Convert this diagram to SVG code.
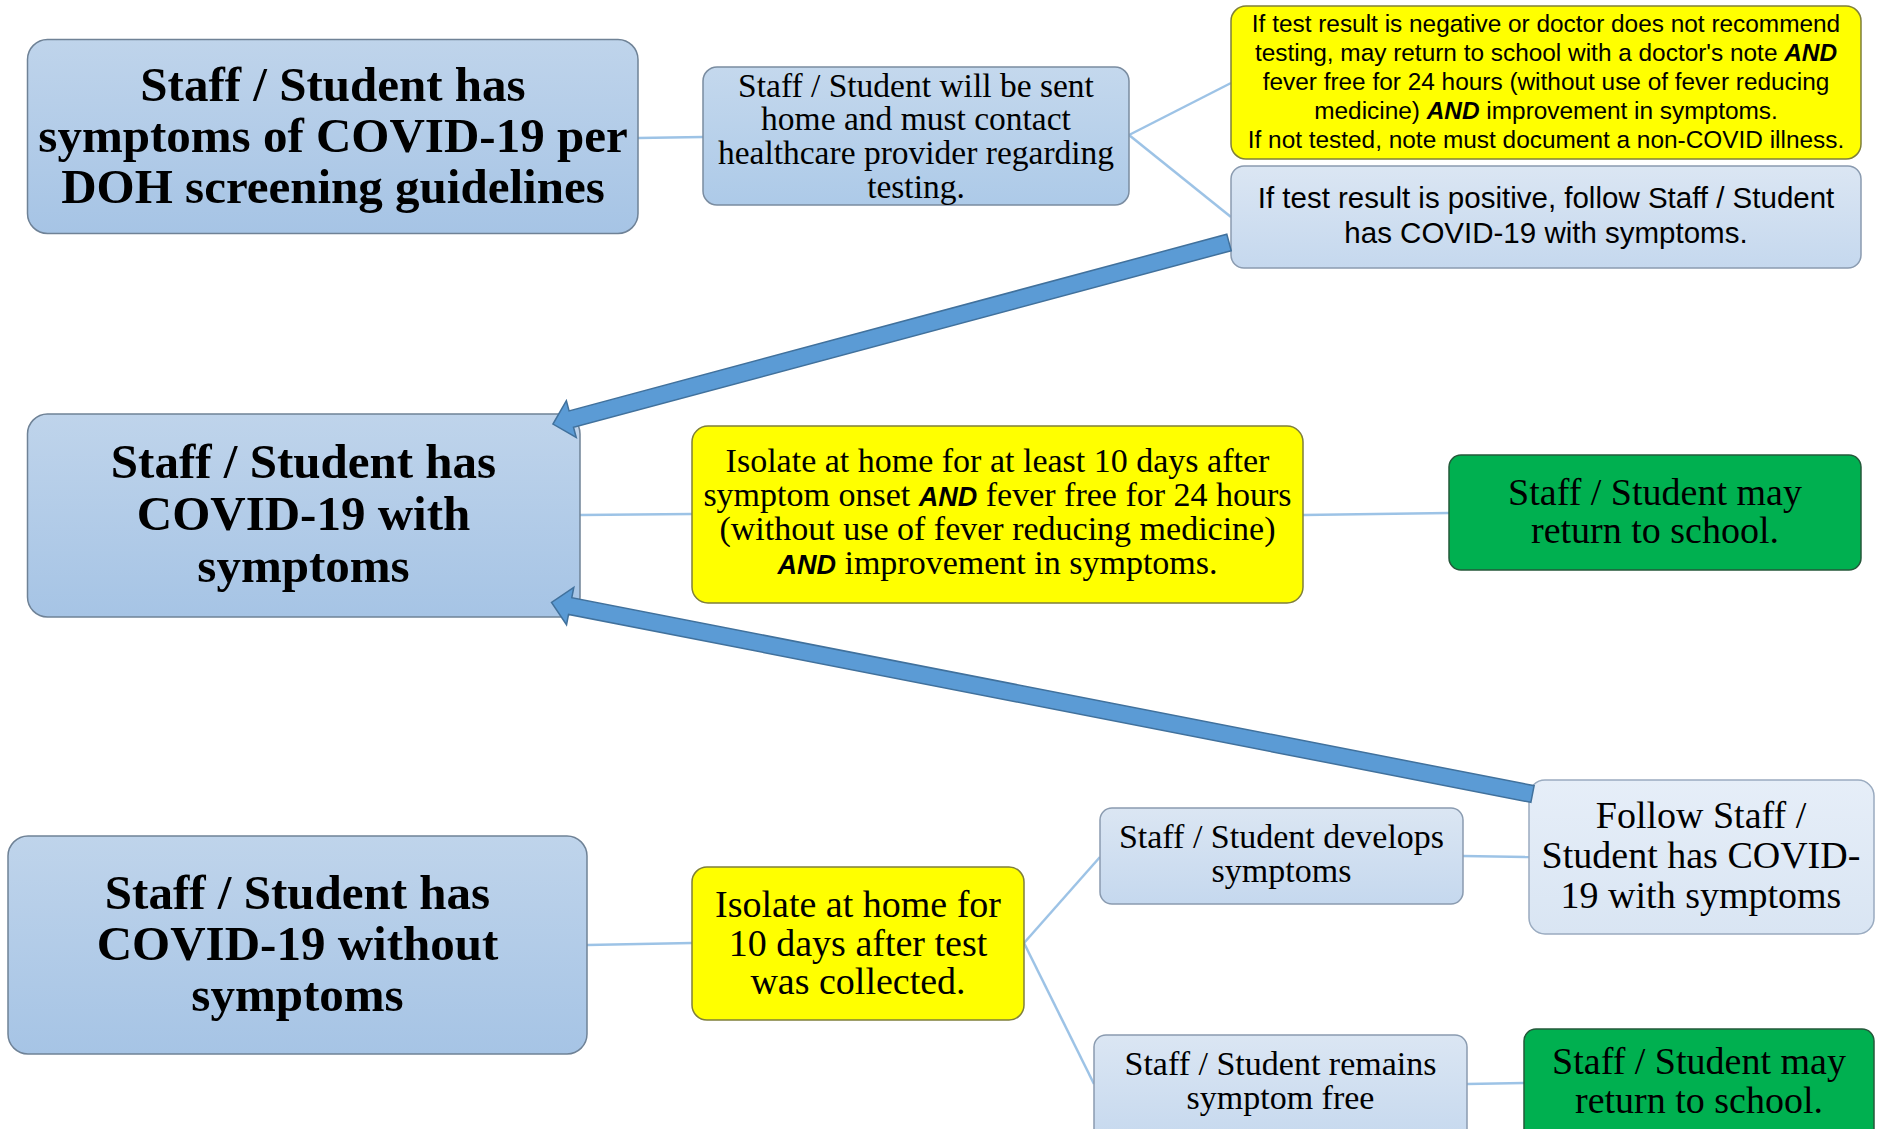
<svg xmlns="http://www.w3.org/2000/svg" width="1878" height="1129" viewBox="0 0 1878 1129">
<defs>
<linearGradient id="gBig" x1="0" y1="0" x2="0" y2="1"><stop offset="0" stop-color="#bfd4eb"/><stop offset="1" stop-color="#a6c4e5"/></linearGradient>
<linearGradient id="gMid" x1="0" y1="0" x2="0" y2="1"><stop offset="0" stop-color="#c4d8ed"/><stop offset="1" stop-color="#adcae8"/></linearGradient>
<linearGradient id="gLight" x1="0" y1="0" x2="0" y2="1"><stop offset="0" stop-color="#dbe6f3"/><stop offset="1" stop-color="#c5d8ee"/></linearGradient>
<linearGradient id="gPale" x1="0" y1="0" x2="0" y2="1"><stop offset="0" stop-color="#e6eef8"/><stop offset="1" stop-color="#d9e5f3"/></linearGradient>
<style>
.big{fill:url(#gBig);stroke:#6f8296;stroke-width:1.5}
.mid{fill:url(#gMid);stroke:#7a8ca0;stroke-width:1.5}
.light{fill:url(#gLight);stroke:#8a9bb0;stroke-width:1.5}
.pale{fill:url(#gPale);stroke:#9aabc0;stroke-width:1.5}
.yel{fill:#ffff00;stroke:#7f7f3a;stroke-width:1.5}
.grn{fill:#00b050;stroke:#24583a;stroke-width:1.5}
.con{stroke:#9dc3e6;stroke-width:2.5;fill:none}
.arr{fill:#5b9bd5;stroke:#41719c;stroke-width:1.5}
text{fill:#000;text-anchor:middle}
.hb{font-family:"Liberation Serif","Times New Roman",serif;font-weight:bold;font-size:49px}
.s33{font-family:"Liberation Serif","Times New Roman",serif;font-size:33.5px}
.s34{font-family:"Liberation Serif","Times New Roman",serif;font-size:34px}
.s38{font-family:"Liberation Serif","Times New Roman",serif;font-size:38px}
.sa{font-family:"Liberation Sans",Arial,sans-serif;font-size:24.4px}
.sb{font-family:"Liberation Sans",Arial,sans-serif;font-size:29.5px}
.bi{font-family:"Liberation Sans",Arial,sans-serif;font-weight:bold;font-style:italic}
</style>
</defs>
<rect width="1878" height="1129" fill="#ffffff"/>

<g id="connectors">
<line class="con" x1="638" y1="138" x2="703" y2="137"/>
<line class="con" x1="1129" y1="135" x2="1231" y2="83"/>
<line class="con" x1="1129" y1="135" x2="1231" y2="217"/>
<line class="con" x1="580" y1="515" x2="692" y2="514"/>
<line class="con" x1="1303" y1="515" x2="1449" y2="513"/>
<line class="con" x1="587" y1="945" x2="692" y2="943"/>
<line class="con" x1="1024" y1="943" x2="1100" y2="857"/>
<line class="con" x1="1024" y1="943" x2="1094" y2="1084"/>
<line class="con" x1="1463" y1="856" x2="1529" y2="857"/>
<line class="con" x1="1467" y1="1084" x2="1524" y2="1083"/>
</g>

<g id="node-symptoms">
<rect class="big" x="27.5" y="39.5" width="610.5" height="194" rx="20"/>
<text class="hb" x="333" y="101">Staff / Student has</text>
<text class="hb" x="333" y="152">symptoms of COVID-19 per</text>
<text class="hb" x="333" y="203">DOH screening guidelines</text>
</g>

<g id="node-sent-home">
<rect class="mid" x="703" y="67" width="426" height="138" rx="14"/>
<text class="s33" x="916" y="96.5">Staff / Student will be sent</text>
<text class="s33" x="916" y="130.2">home and must contact</text>
<text class="s33" x="916" y="163.9">healthcare provider regarding</text>
<text class="s33" x="916" y="197.6">testing.</text>
</g>

<g id="node-negative">
<rect class="yel" x="1231" y="6" width="630" height="153" rx="15"/>
<text class="sa" x="1546" y="32">If test result is negative or doctor does not recommend</text>
<text class="sa" x="1546" y="61">testing, may return to school with a doctor's note <tspan class="bi">AND</tspan></text>
<text class="sa" x="1546" y="90">fever free for 24 hours (without use of fever reducing</text>
<text class="sa" x="1546" y="119">medicine) <tspan class="bi">AND</tspan> improvement in symptoms.</text>
<text class="sa" x="1546" y="148">If not tested, note must document a non-COVID illness.</text>
</g>

<g id="node-positive">
<rect class="light" x="1231" y="166" width="630" height="102" rx="13"/>
<text class="sb" x="1546" y="208">If test result is positive, follow Staff / Student</text>
<text class="sb" x="1546" y="243">has COVID-19 with symptoms.</text>
</g>

<g id="node-with-symptoms">
<rect class="big" x="27.5" y="414" width="552.5" height="203" rx="20"/>
<text class="hb" x="303.5" y="478">Staff / Student has</text>
<text class="hb" x="303.5" y="530">COVID-19 with</text>
<text class="hb" x="303.5" y="582">symptoms</text>
</g>

<g id="node-isolate-symptoms">
<rect class="yel" x="692" y="426" width="611" height="177" rx="16"/>
<text class="s34" x="997.5" y="472">Isolate at home for at least 10 days after</text>
<text class="s34" x="997.5" y="506">symptom onset <tspan class="bi" font-size="27">AND</tspan> fever free for 24 hours</text>
<text class="s34" x="997.5" y="540">(without use of fever reducing medicine)</text>
<text class="s34" x="997.5" y="574"><tspan class="bi" font-size="27">AND</tspan> improvement in symptoms.</text>
</g>

<g id="node-return-1">
<rect class="grn" x="1449" y="455" width="412" height="115" rx="12"/>
<text class="s38" x="1655" y="505">Staff / Student may</text>
<text class="s38" x="1655" y="543">return to school.</text>
</g>

<g id="node-without-symptoms">
<rect class="big" x="8" y="836" width="579" height="218" rx="20"/>
<text class="hb" x="297.5" y="909">Staff / Student has</text>
<text class="hb" x="297.5" y="960">COVID-19 without</text>
<text class="hb" x="297.5" y="1011">symptoms</text>
</g>

<g id="node-isolate-test">
<rect class="yel" x="692" y="867" width="332" height="153" rx="15"/>
<text class="s38" x="858" y="917">Isolate at home for</text>
<text class="s38" x="858" y="955.5">10 days after test</text>
<text class="s38" x="858" y="994">was collected.</text>
</g>

<g id="node-develops">
<rect class="light" x="1100" y="808" width="363" height="96" rx="12"/>
<text class="s34" x="1281.5" y="848">Staff / Student develops</text>
<text class="s34" x="1281.5" y="882">symptoms</text>
</g>

<g id="node-follow">
<rect class="pale" x="1529" y="780" width="345" height="154" rx="16"/>
<text class="s38" x="1701" y="828">Follow Staff /</text>
<text class="s38" x="1701" y="868">Student has COVID-</text>
<text class="s38" x="1701" y="908">19 with symptoms</text>
</g>

<g id="node-remains">
<rect class="light" x="1094" y="1035" width="373" height="110" rx="12"/>
<text class="s34" x="1280.5" y="1075">Staff / Student remains</text>
<text class="s34" x="1280.5" y="1109">symptom free</text>
</g>

<g id="node-return-2">
<rect class="grn" x="1524" y="1029" width="350" height="115" rx="12"/>
<text class="s38" x="1699" y="1074">Staff / Student may</text>
<text class="s38" x="1699" y="1112.5">return to school.</text>
</g>

<g id="arrows">
<polygon class="arr" transform="translate(1229 242.5) rotate(164.97)" points="0,-8.5 681,-8.5 681,-19 700,0 681,19 681,8.5 0,8.5"/>
<polygon class="arr" transform="translate(1532.5 794) rotate(191.05)" points="0,-8.5 980.5,-8.5 980.5,-19 999.5,0 980.5,19 980.5,8.5 0,8.5"/>
</g>
</svg>
